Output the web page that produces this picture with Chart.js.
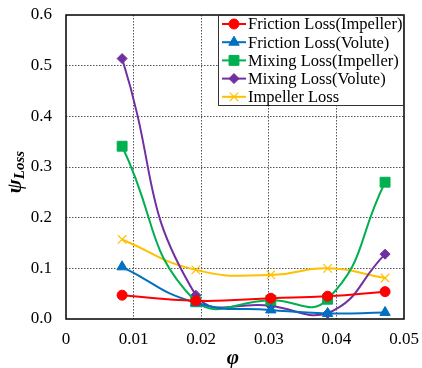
<!DOCTYPE html>
<html lang="en">
<head>
  <meta charset="UTF-8">
  <title>Loss coefficient chart</title>
  <script src="https://cdn.jsdelivr.net/npm/chart.js"></script>
  <style>
    body { margin: 0; background: #ffffff; }
    #wrap { width: 422px; height: 368px; }
  </style>
</head>
<body>
  <div id="wrap"><canvas id="lossChart" width="422" height="368"></canvas></div>

  <script>
    // Data
    var phi = [0.0083, 0.0192, 0.0303, 0.0387, 0.0472];
    var frictionImpeller = [0.047, 0.036, 0.041, 0.045, 0.054];
    var frictionVolute = [0.103, 0.032, 0.018, 0.011, 0.013];
    var mixingImpeller = [0.341, 0.034, 0.037, 0.039, 0.270];
    var mixingVolute = [0.514, 0.047, 0.026, 0.011, 0.128];
    var impellerLoss = [0.157, 0.097, 0.087, 0.100, 0.081];

    var seriesNames = ['Friction Loss(Impeller)', 'Friction Loss(Volute)', 'Mixing Loss(Impeller)', 'Mixing Loss(Volute)', 'Impeller Loss'];
    var xTicks = [0, 0.01, 0.02, 0.03, 0.04, 0.05];
    var yTicks = [0, 0.1, 0.2, 0.3, 0.4, 0.5, 0.6];

    var serif = "'Liberation Serif', 'Times New Roman', serif";

    function pts(ys) {
      return phi.map(function (x, i) { return { x: x, y: ys[i] }; });
    }

    function series(label, ys, color, style, radius) {
      return {
        label: label,
        data: pts(ys),
        borderColor: color,
        backgroundColor: color,
        borderWidth: 2,
        pointStyle: style,
        pointRadius: radius,
        pointBorderWidth: style === 'crossRot' ? 1.2 : 1,
        tension: 0.5,
        fill: false
      };
    }

    var datasets = [
      series(seriesNames[0], frictionImpeller, '#ff0000', 'circle', 5),
      series(seriesNames[1], frictionVolute, '#0070c0', 'triangle', 6),
      series(seriesNames[2], mixingImpeller, '#00b050', 'rect', 7),
      series(seriesNames[3], mixingVolute, '#7030a0', 'rectRot', 5),
      series(seriesNames[4], impellerLoss, '#ffc000', 'crossRot', 6)
    ];

    // frame round the plot area
    var framePlugin = {
      id: 'frame',
      beforeDatasetsDraw: function (chart) {
        var a = chart.chartArea, ctx = chart.ctx;
        ctx.save();
        ctx.strokeStyle = '#000';
        ctx.lineWidth = 1.5;
        ctx.strokeRect(a.left, a.top, a.right - a.left, a.bottom - a.top);
        ctx.restore();
      }
    };

    // axis titles (psi with subscript, phi)
    var titlePlugin = {
      id: 'titles',
      afterDraw: function (chart) {
        var ctx = chart.ctx;
        ctx.save();
        ctx.fillStyle = '#000';
        ctx.translate(16, 172);
        ctx.rotate(-Math.PI / 2);
        ctx.font = 'italic bold 21px ' + serif;
        var w1 = ctx.measureText('\u03c8').width;
        ctx.font = 'italic bold 15px ' + serif;
        var w2 = ctx.measureText('Loss').width;
        var x0 = -(w1 + w2) / 2;
        ctx.textBaseline = 'middle';
        ctx.textAlign = 'left';
        ctx.font = 'italic bold 21px ' + serif;
        ctx.fillText('\u03c8', x0, 0);
        ctx.font = 'italic bold 15px ' + serif;
        ctx.fillText('Loss', x0 + w1, 4);
        ctx.restore();

        ctx.save();
        ctx.fillStyle = '#000';
        ctx.font = 'italic bold 21px ' + serif;
        ctx.textAlign = 'center';
        ctx.textBaseline = 'middle';
        ctx.fillText('\u03c6', 233, 359);
        ctx.restore();
      }
    };

    // legend box inside the plot, top right
    var legendPlugin = {
      id: 'boxLegend',
      afterDraw: function (chart) {
        var ctx = chart.ctx, a = chart.chartArea;
        var left = 218, top = a.top, right = a.right, bottom = 106;
        ctx.save();
        ctx.fillStyle = '#fff';
        ctx.fillRect(left, top, right - left, bottom - top);
        ctx.strokeStyle = '#333';
        ctx.lineWidth = 1;
        ctx.strokeRect(left + 0.5, top + 0.5, right - left - 1, bottom - top - 1);
        ctx.font = '16.5px ' + serif;
        ctx.textBaseline = 'middle';
        ctx.textAlign = 'left';
        chart.data.datasets.forEach(function (ds, i) {
          var y = 24 + i * 18.2;
          ctx.strokeStyle = ds.borderColor;
          ctx.lineWidth = 2;
          ctx.beginPath();
          ctx.moveTo(222, y);
          ctx.lineTo(246, y);
          ctx.stroke();
          ctx.fillStyle = ds.backgroundColor;
          ctx.lineWidth = ds.pointBorderWidth;
          Chart.helpers.drawPoint(ctx, {
            pointStyle: ds.pointStyle,
            radius: ds.pointRadius,
            borderWidth: ds.pointBorderWidth,
            rotation: 0
          }, 234, y);
          ctx.fillStyle = '#000';
          ctx.fillText(ds.label, 248, y + 1);
        });
        ctx.restore();
      }
    };

    var ctx = document.getElementById('lossChart').getContext('2d');
    var lossChart = new Chart(ctx, {
      type: 'line',
      data: { datasets: datasets },
      options: {
        responsive: false,
        animation: false,
        layout: { padding: { left: 0, top: 15, right: 18, bottom: 0 } },
        plugins: {
          legend: { display: false },
          tooltip: { enabled: false }
        },
        scales: {
          x: {
            type: 'linear',
            min: 0,
            max: 0.05,
            afterBuildTicks: function (s) { s.ticks = xTicks.map(function (v) { return { value: v }; }); },
            afterFit: function (s) { s.height = 49; s.paddingLeft = 0; s.paddingRight = 0; },
            ticks: {
              autoSkip: false,
              maxRotation: 0,
              padding: 10,
              color: '#000',
              font: { family: serif, size: 17 },
              callback: function (v) { return v === 0 ? '0' : v.toFixed(2); }
            },
            grid: {
              drawTicks: false,
              lineWidth: 1,
              color: function (c) { return (c.index === 0 || c.index === xTicks.length - 1) ? 'rgba(0,0,0,0)' : '#555'; }
            },
            border: { display: false, dash: [1.5, 1.5] }
          },
          y: {
            type: 'linear',
            min: 0,
            max: 0.6,
            afterBuildTicks: function (s) { s.ticks = yTicks.map(function (v) { return { value: v }; }); },
            afterFit: function (s) { s.width = 66; s.paddingTop = 0; s.paddingBottom = 0; },
            ticks: {
              padding: 14,
              color: '#000',
              font: { family: serif, size: 17 },
              callback: function (v) { return v.toFixed(1); }
            },
            grid: {
              drawTicks: false,
              lineWidth: 1,
              color: function (c) { return (c.index === 0 || c.index === yTicks.length - 1) ? 'rgba(0,0,0,0)' : '#555'; }
            },
            border: { display: false, dash: [1.5, 1.5] }
          }
        }
      },
      plugins: [framePlugin, titlePlugin, legendPlugin]
    });
  </script>
</body>
</html>
